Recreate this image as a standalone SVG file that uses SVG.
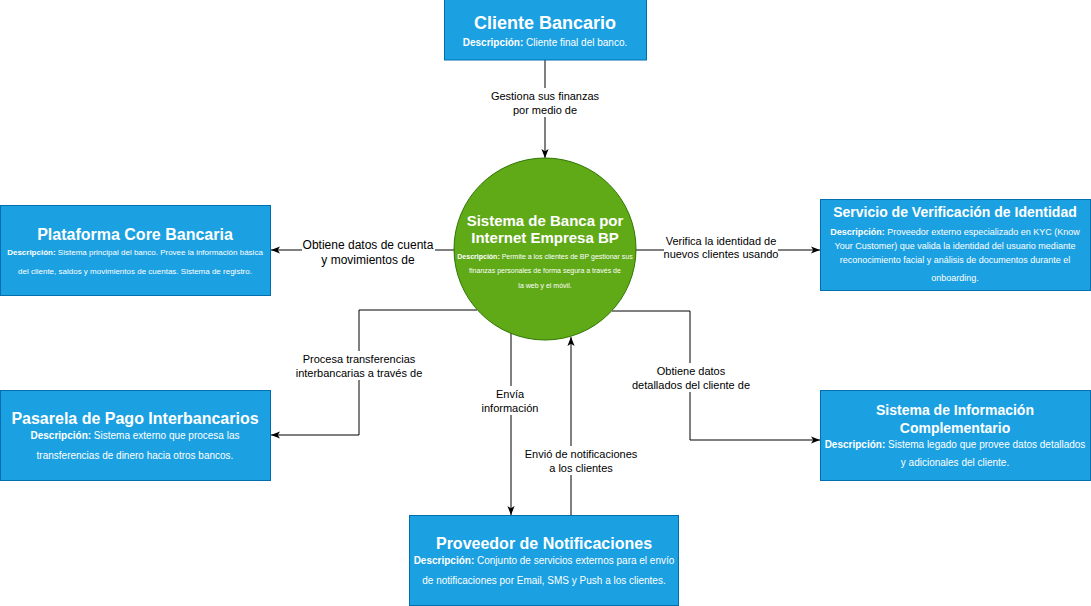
<svg xmlns="http://www.w3.org/2000/svg" width="1091" height="606" viewBox="0 0 1091 606">
<style>
.box{fill:#1ba1e2;stroke:#006eaf;stroke-width:1}
.circ{fill:#60a917;stroke:#2d7600;stroke-width:1}
.t{font-family:"Liberation Sans",Arial,sans-serif;fill:#fff;text-anchor:middle;font-weight:bold}
.d{font-family:"Liberation Sans",Arial,sans-serif;fill:#fff;text-anchor:middle}
.d .b{font-weight:bold}
.edge{fill:none;stroke:#000;stroke-width:1}
.lbl{font-family:"Liberation Sans",Arial,sans-serif;fill:#000;text-anchor:middle;font-size:11px}
.lbg{fill:#fff}
</style>
<defs>
<marker id="arr" viewBox="0 0 10 10" refX="10" refY="5" markerWidth="9" markerHeight="9" orient="auto" markerUnits="userSpaceOnUse">
<path d="M0,1 L10,5 L0,9 L2.5,5 z" fill="#000"/>
</marker>
</defs>
<rect width="1091" height="606" fill="#fff"/>

<g id="connectors">
<path class="edge" d="M545,60 L545,158" marker-end="url(#arr)"/>
<path class="edge" d="M454,250 L271,250" marker-end="url(#arr)"/>
<path class="edge" d="M636,250 L820,250" marker-end="url(#arr)"/>
<path class="edge" d="M477,310 L359,310 L359,435 L271,435" marker-end="url(#arr)"/>
<path class="edge" d="M612,311 L690,311 L690,440 L820,440" marker-end="url(#arr)"/>
<path class="edge" d="M511,333 L511,515" marker-end="url(#arr)"/>
<path class="edge" d="M571,515 L571,337" marker-end="url(#arr)"/>

<rect class="lbg" x="490" y="88" width="110" height="29"/>
<text class="lbl"><tspan x="545" y="100">Gestiona sus finanzas</tspan><tspan x="545" y="114">por medio de</tspan></text>

<rect class="lbg" x="302" y="237" width="133" height="30"/>
<text class="lbl" style="font-size:12px"><tspan x="368" y="249">Obtiene datos de cuenta</tspan><tspan x="368" y="264">y movimientos de</tspan></text>

<rect class="lbg" x="664" y="233" width="114" height="29"/>
<text class="lbl"><tspan x="721" y="245">Verifica la identidad de</tspan><tspan x="721" y="258">nuevos clientes usando</tspan></text>

<rect class="lbg" x="295" y="351" width="128" height="29"/>
<text class="lbl"><tspan x="359" y="363">Procesa transferencias</tspan><tspan x="359" y="377">interbancarias a través de</tspan></text>

<rect class="lbg" x="632" y="363" width="118" height="29"/>
<text class="lbl"><tspan x="691" y="375">Obtiene datos</tspan><tspan x="691" y="389">detallados del cliente de</tspan></text>

<rect class="lbg" x="481" y="386" width="58" height="29"/>
<text class="lbl"><tspan x="510" y="398">Envía</tspan><tspan x="510" y="412">información</tspan></text>

<rect class="lbg" x="523" y="446" width="116" height="29"/>
<text class="lbl"><tspan x="581" y="458">Envió de notificaciones</tspan><tspan x="581" y="472">a los clientes</tspan></text>
</g>

<g id="cliente-bancario">
<rect class="box" x="444.5" y="-0.5" width="202" height="60.5"/>
<text class="t" x="545" y="29" font-size="18">Cliente Bancario</text>
<text class="d" x="545" y="46" font-size="10"><tspan class="b">Descripción:</tspan> Cliente final del banco.</text>
</g>

<g id="sistema-banca">
<circle class="circ" cx="545" cy="249" r="91"/>
<text class="t" font-size="15"><tspan x="545" y="226">Sistema de Banca por</tspan><tspan x="545" y="243">Internet Empresa BP</tspan></text>
<text class="d" font-size="7"><tspan x="545" y="258.5"><tspan class="b">Descripción:</tspan> Permite a los clientes de BP gestionar sus</tspan><tspan x="545" y="272.5">finanzas personales de forma segura a través de</tspan><tspan x="545" y="288">la web y el móvil.</tspan></text>
</g>

<g id="plataforma-core">
<rect class="box" x="0.5" y="205.5" width="270" height="90"/>
<text class="t" x="135" y="240" font-size="16">Plataforma Core Bancaria</text>
<text class="d" font-size="8"><tspan x="135" y="255"><tspan class="b">Descripción:</tspan> Sistema principal del banco. Provee la información básica</tspan><tspan x="135" y="273.5">del cliente, saldos y movimientos de cuentas. Sistema de registro.</tspan></text>
</g>

<g id="servicio-verificacion">
<rect class="box" x="820.5" y="199.5" width="270" height="91"/>
<text class="t" x="955" y="217" font-size="14">Servicio de Verificación de Identidad</text>
<text class="d" font-size="9"><tspan x="955" y="234.5"><tspan class="b">Descripción:</tspan> Proveedor externo especializado en KYC (Know</tspan><tspan x="955" y="248.5">Your Customer) que valida la identidad del usuario mediante</tspan><tspan x="955" y="262.5">reconocimiento facial y análisis de documentos durante el</tspan><tspan x="955" y="280.5">onboarding.</tspan></text>
</g>

<g id="pasarela-pago">
<rect class="box" x="0.5" y="390.5" width="270" height="90"/>
<text class="t" x="135" y="423.5" font-size="16">Pasarela de Pago Interbancarios</text>
<text class="d" font-size="10"><tspan x="135" y="438.5"><tspan class="b">Descripción:</tspan> Sistema externo que procesa las</tspan><tspan x="135" y="458.5">transferencias de dinero hacia otros bancos.</tspan></text>
</g>

<g id="sistema-informacion">
<rect class="box" x="820.5" y="390.5" width="270" height="90"/>
<text class="t" font-size="14"><tspan x="955" y="415">Sistema de Información</tspan><tspan x="955" y="432.5">Complementario</tspan></text>
<text class="d" font-size="10"><tspan x="955" y="447.5"><tspan class="b">Descripción:</tspan> Sistema legado que provee datos detallados</tspan><tspan x="955" y="465.5">y adicionales del cliente.</tspan></text>
</g>

<g id="proveedor-notificaciones">
<rect class="box" x="409.5" y="515.5" width="269" height="90"/>
<text class="t" x="544" y="548.5" font-size="16">Proveedor de Notificaciones</text>
<text class="d" font-size="10"><tspan x="544" y="564"><tspan class="b">Descripción:</tspan> Conjunto de servicios externos para el envío</tspan><tspan x="544" y="583.5">de notificaciones por Email, SMS y Push a los clientes.</tspan></text>
</g>
</svg>
